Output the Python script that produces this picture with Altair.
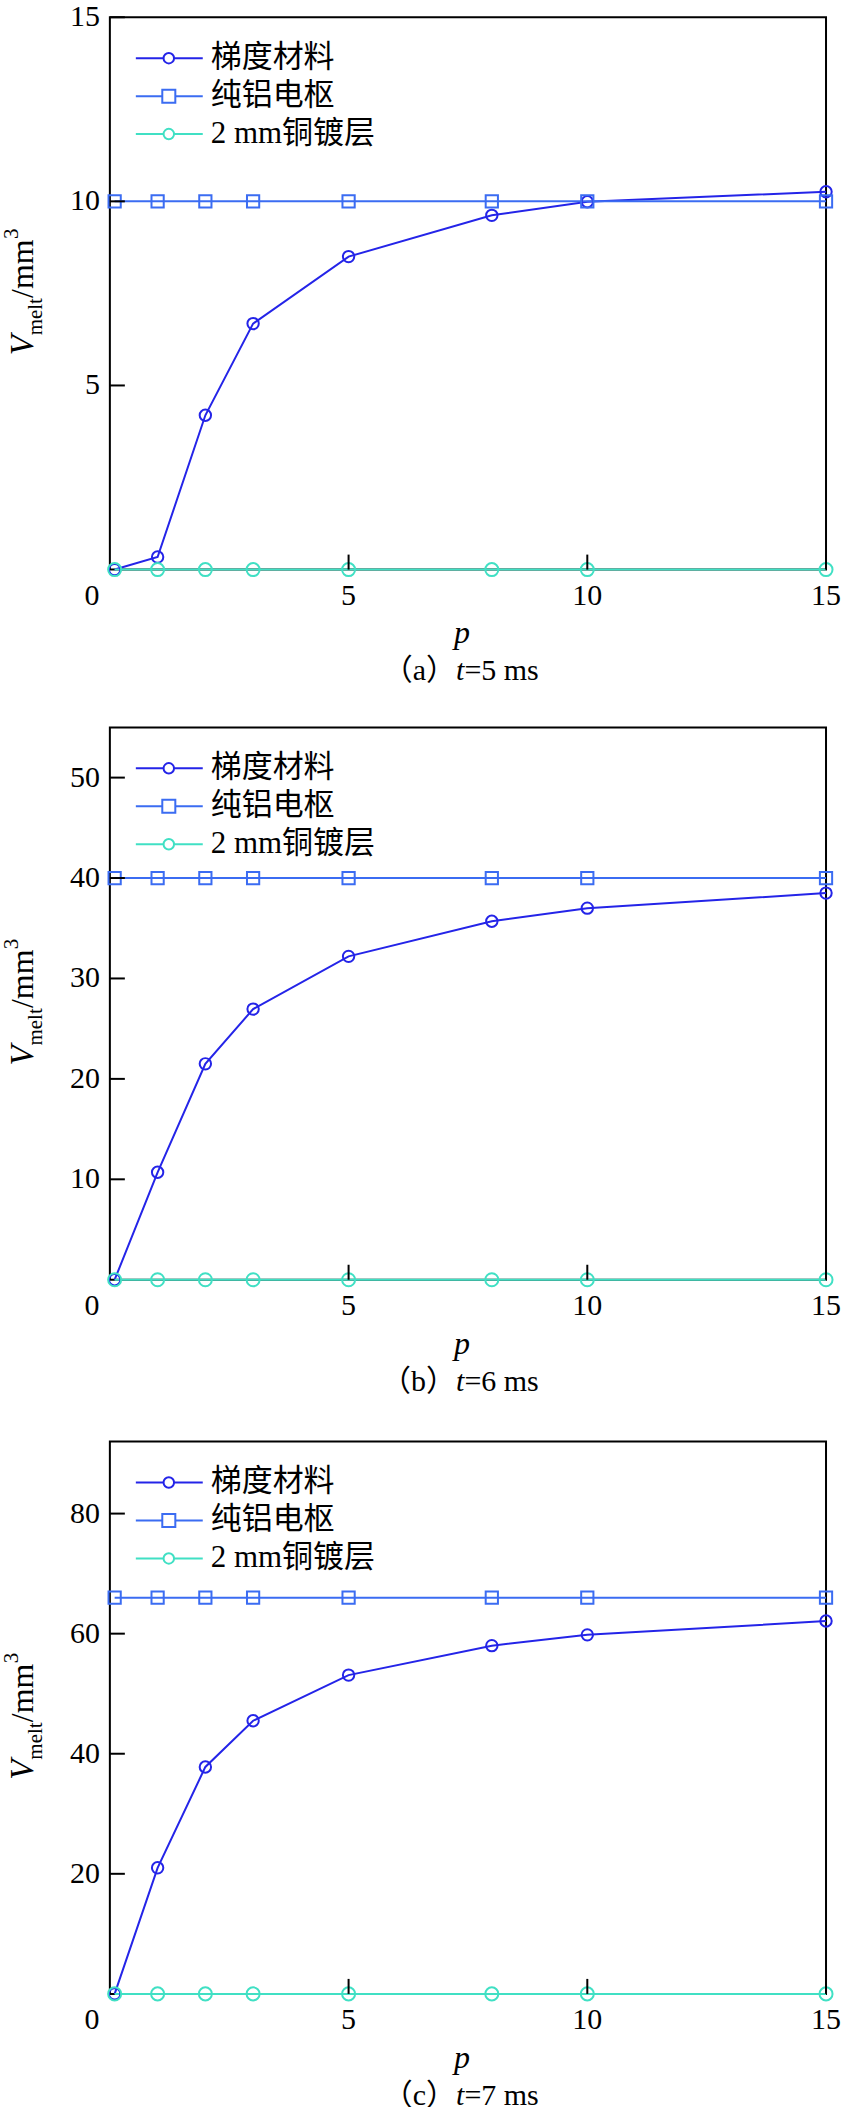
import altair as alt
import pandas as pd

# ---------------- data ----------------
P = [0.1, 1, 2, 3, 5, 8, 10, 15]
SERIES = ["梯度材料", "纯铝电枢", "2 mm铜镀层"]
COLORS = ["#2424e8", "#3b6cf2", "#40e0c4"]
SHAPES = ["circle", "square", "circle"]

GRAD_A = [0, 0.34, 4.19, 6.68, 8.5, 9.62, 9.99, 10.26]
AL_A = [10, 10, 10, 10, 10, 10, 10, 10]
CU_A = [0, 0, 0, 0, 0, 0, 0, 0]

GRAD_B = [0, 10.7, 21.5, 26.95, 32.2, 35.7, 37.0, 38.5]
AL_B = [40, 40, 40, 40, 40, 40, 40, 40]
CU_B = [0, 0, 0, 0, 0, 0, 0, 0]

GRAD_C = [0, 21.0, 37.8, 45.5, 53.1, 58.0, 59.8, 62.1]
AL_C = [66, 66, 66, 66, 66, 66, 66, 66]
CU_C = [0, 0, 0, 0, 0, 0, 0, 0]

YMAX = [15, 55, 92]
YTICKS = [[5, 10, 15], [10, 20, 30, 40, 50], [20, 40, 60, 80]]
XTICKS = [5, 10, 15]
CAP_LABELS = ["（a）", "（b）", "（c）"]
CAP_TIMES = ["=5 ms", "=6 ms", "=7 ms"]

# ---------------- style ----------------
W, H = 717, 553
SERIF = "Liberation Serif"
CJK = "Noto Sans CJK SC"
ONE = pd.DataFrame({"k": [0]})


def txt(text, x, y, size=30, font=SERIF, style="normal", align="left",
        baseline="alphabetic", angle=0, color="black"):
    return alt.Chart(ONE).mark_text(
        text=text, font=font, fontSize=size, fontStyle=style, align=align,
        baseline=baseline, angle=angle, color=color
    ).encode(x=alt.value(x), y=alt.value(y))


def panel(grad, al, cu, ymax, yticks, cap_label, cap_time):
    rows = []
    for name, vals in zip(SERIES, [grad, al, cu]):
        for p, v in zip(P, vals):
            rows.append({"p": p, "V": v, "series": name})
    df = pd.DataFrame(rows)

    xs = alt.Scale(domain=[0, 15], nice=False, zero=False)
    ys = alt.Scale(domain=[0, ymax], nice=False, zero=False)
    x = alt.X("p:Q", scale=xs, axis=None)
    y = alt.Y("V:Q", scale=ys, axis=None)
    color = alt.Color("series:N", scale=alt.Scale(domain=SERIES, range=COLORS), legend=None)

    lines = alt.Chart(df).mark_line(strokeWidth=2).encode(x=x, y=y, color=color)
    pts = alt.Chart(df).mark_point(filled=False, strokeWidth=2, opacity=1).encode(
        x=x, y=y, color=color,
        shape=alt.Shape("series:N", scale=alt.Scale(domain=SERIES, range=SHAPES), legend=None),
        size=alt.Size("series:N", scale=alt.Scale(domain=SERIES, range=[130, 170, 130]), legend=None),
    )

    ydf = pd.DataFrame({"v": yticks})
    xdf = pd.DataFrame({"v": XTICKS})
    ytk = alt.Chart(ydf).mark_rule(color="black", strokeWidth=2).encode(
        y=alt.Y("v:Q", scale=ys, axis=None), x=alt.value(0), x2=alt.value(15))
    xtk = alt.Chart(xdf).mark_rule(color="black", strokeWidth=2).encode(
        x=alt.X("v:Q", scale=xs, axis=None), y=alt.value(H), y2=alt.value(H - 15))
    ylab = alt.Chart(ydf).mark_text(font=SERIF, fontSize=30, align="right", baseline="middle",
                                    color="black").encode(
        y=alt.Y("v:Q", scale=ys, axis=None), x=alt.value(-10), text=alt.Text("v:Q", format="d"))
    xlab = alt.Chart(xdf).mark_text(font=SERIF, fontSize=30, align="center", baseline="alphabetic",
                                    color="black").encode(
        x=alt.X("v:Q", scale=xs, axis=None), y=alt.value(H + 35), text=alt.Text("v:Q", format="d"))

    layers = [lines, pts, ytk, xtk, ylab, xlab]

    # corner "0" label
    layers.append(txt("0", -18, H + 35, align="center"))
    # x title p
    layers.append(txt("p", W / 2 - 6, H + 74, size=32, style="italic", align="center"))
    # caption
    tx = W / 2 - 12
    cy = H + 111
    layers.append(txt(cap_label, tx, cy, size=30, font=SERIF + ", " + CJK, align="right"))
    layers.append(txt("t", tx, cy, size=30, style="italic"))
    layers.append(txt(cap_time, tx + 8.5, cy, size=30))

    # y title: V_melt / mm^3 (rotated)
    bx = -77
    start = H / 2 + 62
    layers.append(txt("V", bx, start, size=33, style="italic", angle=270))
    s2 = start - 20
    layers.append(txt("melt", bx + 9, s2, size=21, angle=270))
    s3 = s2 - 37.5
    layers.append(txt("/mm", bx, s3, size=32, angle=270))
    s4 = s3 - 59
    layers.append(txt("3", bx - 15, s4, size=21, angle=270))

    # legend (manual, inside plot)
    for i, (name, col, shp) in enumerate(zip(SERIES, COLORS, SHAPES)):
        ly = 41 + 38 * i
        layers.append(alt.Chart(ONE).mark_rule(color=col, strokeWidth=2).encode(
            x=alt.value(26), x2=alt.value(93), y=alt.value(ly)))
        layers.append(alt.Chart(ONE).mark_point(
            shape=shp, filled=True, fill="white", stroke=col, strokeWidth=2, opacity=1,
            size=110 if shp == "circle" else 170).encode(x=alt.value(59), y=alt.value(ly)))
        layers.append(txt(name, 101, ly, size=31, font=SERIF + ", " + CJK, baseline="middle"))

    return alt.layer(*layers).properties(width=W, height=H)


pa = panel(GRAD_A, AL_A, CU_A, YMAX[0], YTICKS[0], CAP_LABELS[0], CAP_TIMES[0])
pb = panel(GRAD_B, AL_B, CU_B, YMAX[1], YTICKS[1], CAP_LABELS[1], CAP_TIMES[1])
pc = panel(GRAD_C, AL_C, CU_C, YMAX[2], YTICKS[2], CAP_LABELS[2], CAP_TIMES[2])

chart = alt.vconcat(pa, alt.vconcat(pb, pc, spacing=43), spacing=39).properties(
    padding={"left": 0, "top": 0, "right": 0, "bottom": 0}
).configure_view(stroke="black", strokeWidth=2)

chart.save("out.html", embed_options={"renderer": "svg", "actions": False})
